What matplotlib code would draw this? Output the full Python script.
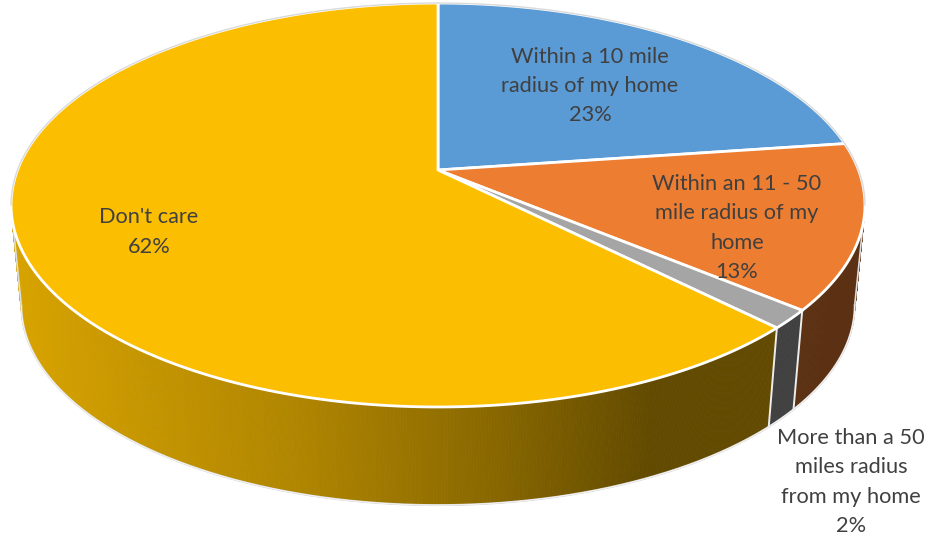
# -*- coding: utf-8 -*-
import numpy as np
import matplotlib
matplotlib.use("Agg")
import matplotlib.pyplot as plt
from matplotlib.collections import PolyCollection
from matplotlib.colors import to_rgb

# answers, clockwise from 12 o'clock
categories = ["Within a 10 mile\nradius of my home",
              "Within an 11 - 50\nmile radius of my\nhome",
              "More than a 50\nmiles radius\nfrom my home",
              "Don't care"]
shares = [22.8, 13.2, 1.5, 62.5]
colors = ["#5B9BD5", "#ED7D31", "#A5A5A5", "#FBBE00"]

# pixel centre of each label block
label_x = [590, 737, 851, 149]
label_y = [86, 228, 482, 232]

plt.rcParams['font.family'] = ['Lato', 'DejaVu Sans']

fig = plt.figure(figsize=(9.29, 5.34), dpi=100)
ax = fig.add_axes([0, 0, 1, 1])
ax.set_xlim(0, 929)
ax.set_ylim(534, 0)
ax.axis("off")

# perspective view of a circle, the apex sits above the ellipse centre
K = 0.1733


def project(deg, cx=438.0, cy=170.0, a=420.5, b=195.9):
    t = np.radians(deg)
    px = np.sin(t)
    py = -np.cos(t)
    w = 1 - K * py
    return cx + a * px / w, cy + b * py / w


def bottom(deg):
    return project(deg, cy=270.5, a=420.5 * 0.976, b=195.9 * 0.99)


def wall_shade(x):
    return np.interp(x, [15, 120, 300, 500, 650, 929],
                     [0.86, 0.80, 0.70, 0.54, 0.39, 0.39])


edges = np.concatenate([[0], np.cumsum(shares)]) * 3.6
front_from, front_to = 100.0, 260.0

# side wall
for i in range(len(shares)):
    lo = max(edges[i], front_from)
    hi = min(edges[i + 1], front_to)
    if lo >= hi:
        continue
    steps = np.linspace(lo, hi, int((hi - lo) * 3) + 2)
    tx, ty = project(steps)
    bx, by = bottom(steps)
    quads = []
    cols = []
    base = np.array(to_rgb(colors[i]))
    for j in range(len(steps) - 1):
        quads.append([(tx[j], ty[j]), (tx[j + 1], ty[j + 1]),
                      (bx[j + 1], by[j + 1]), (bx[j], by[j])])
        mx = (tx[j] + bx[j]) / 2
        cols.append(base * wall_shade(mx))
    ax.add_collection(PolyCollection(quads, facecolors=cols, edgecolors=cols,
                                     linewidths=0.6, zorder=2))

# outline of the wall bottom, and white seams between the wall pieces
steps = np.linspace(front_from, front_to, 400)
bx, by = bottom(steps)
ax.plot(bx, by, color="#DEDEDE", lw=1.4, zorder=3)
ax.plot(bx, by, color="#F6F6F6", lw=0.6, zorder=3)
for e in edges[1:-1]:
    if front_from < e < front_to:
        tx, ty = project(e)
        ex, ey = bottom(e)
        ax.plot([tx, ex], [ty, ey], color="#EDEDED", lw=1.4, zorder=3)
for side in (front_from, front_to):
    tx, ty = project(side)
    ex, ey = bottom(side)
    ax.plot([tx, ex], [ty, ey], color="#DEDEDE", lw=1.2, zorder=3)

# top of the pie
for i in range(len(shares)):
    steps = np.linspace(edges[i], edges[i + 1], 300)
    rx, ry = project(steps)
    ax.fill(np.r_[438.0, rx], np.r_[170.0, ry], facecolor=colors[i],
            edgecolor="white", lw=2.0, joinstyle="round", zorder=4)

# grey halo on the back half of the rim only
steps = np.linspace(front_to, front_from + 360, 500)
rx, ry = project(steps)
ax.plot(rx, ry, color="#DADADA", lw=1.0, zorder=5)

# labels
for i in range(len(categories)):
    ax.text(label_x[i], label_y[i], "%s\n%.0f%%" % (categories[i], shares[i]),
            ha="center", va="center", ma="center", fontsize=15.7,
            color="#404040", linespacing=1.57, zorder=6)

fig.savefig("out.png", dpi=100)
